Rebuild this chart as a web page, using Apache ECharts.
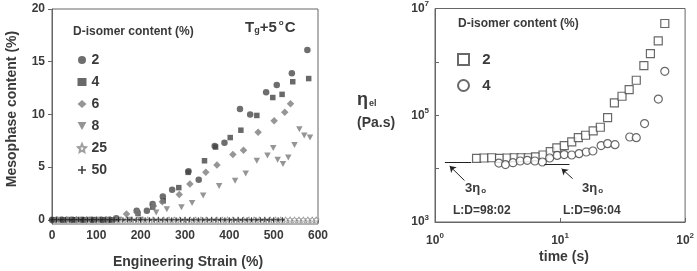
<!DOCTYPE html>
<html>
<head>
<meta charset="utf-8">
<script src="https://cdn.jsdelivr.net/npm/echarts@6/dist/echarts.min.js"></script>
<style>
html,body{margin:0;padding:0;background:#fff;}
#main{width:697px;height:271px;}
</style>
</head>
<body>
<div id="main"></div>
<script>
// left panel: mesophase content vs engineering strain, [strain %, mesophase %]
var meso2 = [[0,0],[22,0],[45,0],[68,0],[90,0],[112,0],[130,0],[145,0.15],[191,0.85],[214,0.85],[227,1.5],[250,2.2],[271,2.85],[308,4.6],[331,3.8],[367,7.0],[389,7.3],[424,10.5],[447,10.0],[483,12.1],[507,12.8],[541,13.9],[576,16.1]];
var meso4 = [[5,0],[28,0],[50,0],[72,0],[95,0],[118,0],[135,0],[194,0.6],[227,1.2],[251,1.8],[286,3.05],[307,4.5],[344,5.6],[369,6.9],[402,7.8],[426,8.5],[462,9.9],[498,11.6],[519,11.9],[543,13.1],[579,13.4]];
var meso6 = [[10,0],[32,0],[55,0],[78,0],[100,0],[122,0],[140,0],[168,0.55],[192,0.7],[229,1.3],[249,1.7],[287,2.4],[311,3.4],[347,4.5],[372,5.2],[408,6.2],[432,6.6],[465,8.3],[501,9.4],[525,10.2],[538,11.0]];
var meso8 = [[15,0],[38,0],[60,0],[84,0],[106,0],[126,0],[150,0],[175,0],[200,0],[235,0.7],[259,1.0],[292,1.2],[316,1.6],[341,2.3],[377,3.2],[413,3.7],[437,4.4],[462,5.6],[486,6.1],[499,6.8],[509,5.7],[521,5.3],[533,5.9],[547,7.1],[558,8.6],[569,8.0],[582,7.8]];
var strain25 = [0,12,24,36,48,60,72,84,96,108,120,132,144,156,168,180,192,204,216,228,240,252,264,276,288,300,312,324,336,348,360,372,384,396,408,420,432,444,456,468,480,492,504,516,527,537,547,557,567,577,587,596];
var strain50 = [0,10,20,30,40,50,60,70,80,90,100,110,120,130,140,150,160,170,180,190,200,210,220,230,240,250,260,270,280,290,300,310,320,330,340,350,360,370,380,390,400,410,420,430,440,450,460,470,480,490,500,510,520];

// right panel: elongational viscosity vs time, [time s, eta Pa.s]
var eta2 = [[2.15,1.55e4],[2.47,1.58e4],[2.84,1.6e4],[3.28,1.56e4],[3.77,1.58e4],[4.30,1.6e4],[4.88,1.6e4],[5.57,1.6e4],[6.36,1.66e4],[7.31,1.8e4],[8.35,2.08e4],[9.42,2.44e4],[10.8,2.7e4],[12.4,3.16e4],[14.0,3.81e4],[16.0,4.22e4],[18.4,5.08e4],[21.0,5.96e4],[24.0,9.04e4],[27.2,1.7e5],[31.3,2.27e5],[35.7,3.03e5],[40.7,4.53e5],[46.8,8.53e5],[52.8,1.43e6],[61.0,2.48e6],[68.8,5.24e6]];
var eta4 = [[3.24,1.27e4],[3.66,1.19e4],[4.20,1.29e4],[4.80,1.39e4],[5.47,1.43e4],[6.29,1.39e4],[7.22,1.33e4],[8.26,1.58e4],[9.48,1.77e4],[10.8,1.83e4],[12.4,1.8e4],[14.2,1.91e4],[16.2,2.05e4],[18.3,2.14e4],[21.3,2.7e4],[24.0,2.94e4],[27.5,2.81e4],[36.1,3.91e4],[40.7,3.8e4],[47.4,6.97e4],[61.1,2.01e5],[68.8,6.64e5]];
// 3*eta0 reference levels [t start, t end, eta]
var ref98 = [1.2, 1.95, 1.3e4];
var ref96 = [7.5, 11.9, 1.22e4];

var yTicksLeft = [0, 5, 10, 15, 20];

var font = 'Liberation Sans, Arial, sans-serif';
var dark = '#3a3a3a';
var axisCol = '#666';

function zeros(xs){ return xs.map(function(x){ return [x, 0]; }); }
function sup(v){
    var e = Math.round(Math.log(v) / Math.LN10);
    return '10{s|' + e + '}';
}
var supRich = { s: { fontSize: 8, fontWeight: 'bold', fontFamily: font, color: dark, padding: [0, 0, 9, 0] } };

var dom = document.getElementById('main');
var myChart = echarts.init(dom);
var option = {
    animation: false,
    textStyle: { fontFamily: font },
    grid: [
        { left: 52, top: 9, width: 266, height: 215, show: true, borderColor: axisCol, borderWidth: 1 },
        { left: 435, top: 8, width: 255, height: 214, show: true, borderColor: axisCol, borderWidth: 1 }
    ],
    xAxis: [{
        gridIndex: 0, type: 'value', min: 0, max: 600, interval: 100,
        axisLine: { lineStyle: { color: axisCol } },
        axisTick: { show: true, length: 3, lineStyle: { color: axisCol } },
        splitLine: { show: false },
        axisLabel: { color: dark, fontWeight: 'bold', fontSize: 12, margin: 6 }
    }, {
        gridIndex: 1, type: 'log', min: 1, max: 100, logBase: 10,
        axisLine: { lineStyle: { color: axisCol } },
        axisTick: { show: true, inside: true, length: 4, lineStyle: { color: axisCol } },
        splitLine: { show: false },
        axisLabel: { color: dark, fontWeight: 'bold', fontSize: 12, margin: 10, formatter: sup, rich: supRich }
    }],
    yAxis: [{
        gridIndex: 0, type: 'value', min: -0.4, max: 20,
        axisLine: { lineStyle: { color: axisCol } },
        axisTick: { show: true, length: 4, customValues: yTicksLeft, lineStyle: { color: axisCol } },
        splitLine: { show: false },
        axisLabel: { color: dark, fontWeight: 'bold', fontSize: 12, margin: 7, customValues: yTicksLeft }
    }, {
        gridIndex: 1, type: 'log', min: 1000, max: 1e7, logBase: 10,
        axisLine: { lineStyle: { color: axisCol } },
        axisTick: { show: true, inside: true, length: 4, lineStyle: { color: axisCol } },
        splitLine: { show: false },
        axisLabel: {
            color: dark, fontWeight: 'bold', fontSize: 12, margin: 6, rich: supRich,
            formatter: function(v){
                var e = Math.round(Math.log(v) / Math.LN10);
                return e % 2 ? sup(v) : '';
            }
        }
    }],
    legend: [{
        data: ['2', '4', '6', '8', '25', '50'],
        orient: 'vertical', left: 72, top: 48,
        itemWidth: 9, itemHeight: 8, itemGap: 8,
        textStyle: { color: dark, fontWeight: 'bold', fontSize: 14, lineHeight: 10, fontFamily: font }
    }, {
        data: ['r2', 'r4'],
        orient: 'vertical', left: 452, top: 47,
        itemWidth: 11, itemHeight: 11, itemGap: 11,
        formatter: function(n){ return '  ' + n.slice(1); },
        textStyle: { color: dark, fontWeight: 'bold', fontSize: 15, lineHeight: 11, fontFamily: font }
    }],
    graphic: [
        { type: 'text', left: 73, top: 26, style: { text: 'D-isomer content (%)', font: 'bold 12px ' + font, fill: dark } },
        { type: 'text', left: 245, top: 19, style: {
            text: 'T{sub|g}+5{sup|o}C', font: 'bold 15px ' + font, fill: dark,
            rich: { sub: { fontSize: 9, fontWeight: 'bold', fill: dark, padding: [6, 0, 0, 0] }, sup: { fontSize: 8, fontWeight: 'bold', fill: dark, padding: [0, 1, 10, 2] } }
        } },
        { type: 'text', x: 12, y: 109, rotation: Math.PI / 2, style: { text: 'Mesophase content (%)', font: 'bold 14px ' + font, fill: dark, align: 'center', verticalAlign: 'middle' } },
        { type: 'text', x: 188, y: 262, style: { text: 'Engineering Strain (%)', font: 'bold 14px ' + font, fill: dark, align: 'center', verticalAlign: 'middle' } },
        { type: 'text', left: 458, top: 18, style: { text: 'D-isomer content (%)', font: 'bold 12px ' + font, fill: dark } },
        { type: 'text', x: 357, y: 100, style: {
            text: 'η{sub|el}', font: 'bold 18px ' + font, fill: dark, verticalAlign: 'middle',
            rich: { sub: { fontSize: 9, fontWeight: 'bold', fill: dark, padding: [7, 0, 0, 1] } }
        } },
        { type: 'text', x: 357, y: 123, style: { text: '(Pa.s)', font: 'bold 14px ' + font, fill: dark, verticalAlign: 'middle' } },
        { type: 'text', x: 564, y: 257, style: { text: 'time (s)', font: 'bold 14px ' + font, fill: dark, align: 'center', verticalAlign: 'middle' } },
        { type: 'text', x: 465, y: 188, style: {
            text: '3η{sub|o}', font: 'bold 13px ' + font, fill: dark, verticalAlign: 'middle',
            rich: { sub: { fontSize: 8, fontWeight: 'bold', fill: dark, padding: [6, 0, 0, 1] } }
        } },
        { type: 'text', x: 582, y: 188, style: {
            text: '3η{sub|o}', font: 'bold 13px ' + font, fill: dark, verticalAlign: 'middle',
            rich: { sub: { fontSize: 8, fontWeight: 'bold', fill: dark, padding: [6, 0, 0, 1] } }
        } },
        { type: 'text', x: 453, y: 211, style: { text: 'L:D=98:02', font: 'bold 12px ' + font, fill: dark, verticalAlign: 'middle' } },
        { type: 'text', x: 563, y: 211, style: { text: 'L:D=96:04', font: 'bold 12px ' + font, fill: dark, verticalAlign: 'middle' } }
    ],
    series: [{
        name: '25', type: 'scatter', xAxisIndex: 0, yAxisIndex: 0,
        data: zeros(strain25), symbol: 'path://M5,0L6.5,3.5L10,4L7.3,6.5L8,10L5,8.2L2,10L2.7,6.5L0,4L3.5,3.5Z', symbolSize: 6,
        itemStyle: { color: '#fff', borderColor: '#888', borderWidth: 1 }
    }, {
        name: '2', type: 'scatter', xAxisIndex: 0, yAxisIndex: 0,
        data: meso2, symbol: 'circle', symbolSize: 6.5,
        itemStyle: { color: '#4a4a4a' }
    }, {
        name: '4', type: 'scatter', xAxisIndex: 0, yAxisIndex: 0,
        data: meso4, symbol: 'rect', symbolSize: 5.5,
        itemStyle: { color: '#444' }
    }, {
        name: '6', type: 'scatter', xAxisIndex: 0, yAxisIndex: 0,
        data: meso6, symbol: 'diamond', symbolSize: 7.5,
        itemStyle: { color: '#7c7c7c' }
    }, {
        name: '8', type: 'scatter', xAxisIndex: 0, yAxisIndex: 0,
        data: meso8, symbol: 'path://M0,0L10,0L5,9Z', symbolSize: [6.5, 6],
        itemStyle: { color: '#7a7a7a' }
    }, {
        name: '50', type: 'scatter', xAxisIndex: 0, yAxisIndex: 0,
        data: zeros(strain50), symbol: 'path://M4,0H6V4H10V6H6V10H4V6H0V4H4Z', symbolSize: 5,
        itemStyle: { color: '#111' }
    }, {
        name: 'r2', type: 'scatter', xAxisIndex: 1, yAxisIndex: 1,
        data: eta2, symbol: 'rect', symbolSize: 8,
        itemStyle: { color: '#fff', borderColor: '#444', borderWidth: 1.2 },
        markLine: {
            silent: true, symbol: ['none', 'none'],
            lineStyle: { color: '#222', width: 1, type: 'solid' }, label: { show: false },
            data: [
                [{ coord: [ref98[0], ref98[2]] }, { coord: [ref98[1], ref98[2]] }],
                [{ coord: [ref96[0], ref96[2]] }, { coord: [ref96[1], ref96[2]] }]
            ]
        }
    }, {
        name: 'r4', type: 'scatter', xAxisIndex: 1, yAxisIndex: 1,
        data: eta4, symbol: 'circle', symbolSize: 8,
        itemStyle: { color: '#fff', borderColor: '#444', borderWidth: 1.2 },
        markLine: {
            silent: true, symbol: ['none', 'arrow'], symbolSize: 6,
            lineStyle: { color: '#222', width: 1, type: 'solid' }, label: { show: false },
            data: [
                [{ coord: [1.72, 6.0e3] }, { coord: [1.31, 1.12e4] }],
                [{ coord: [12.6, 6.5e3] }, { coord: [10.3, 1.0e4] }]
            ]
        }
    }]
};
if (option && typeof option === "object") {
    myChart.setOption(option, true);
}
</script>
</body>
</html>
